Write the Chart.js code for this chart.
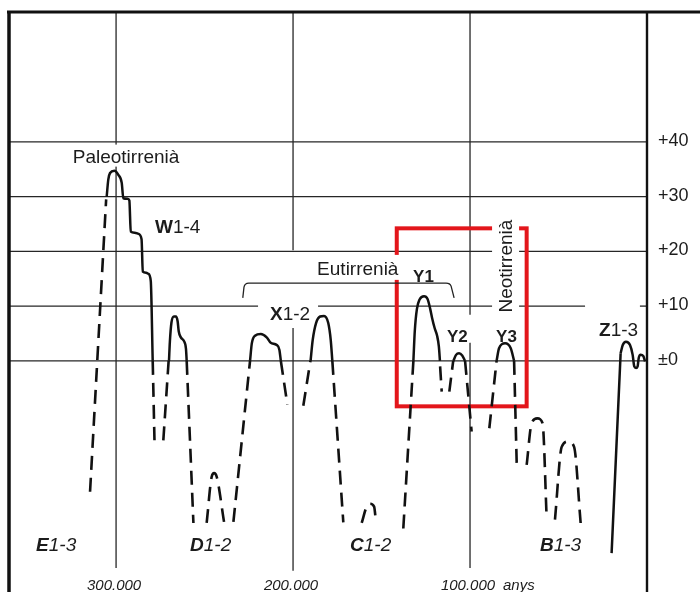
<!DOCTYPE html>
<html>
<head>
<meta charset="utf-8">
<script src="https://cdn.jsdelivr.net/npm/chart.js@4.4.1/dist/chart.umd.min.js"></script>
<style>
  html, body { margin: 0; padding: 0; background: #fff; }
  #wrap { width: 700px; height: 592px; }
</style>
</head>
<body>
<div id="wrap"><canvas id="c" width="700" height="592"></canvas></div>
<script>
// Nivell del mar (m) respecte a l'edat (milers d'anys, ka)
const yTicks = [0, 10, 20, 30, 40];
const yTickLabels = ['±0', '+10', '+20', '+30', '+40'];
const yearTicks = [300, 200, 100];
const yearLabels = ['300.000', '200.000', '100.000'];

// Trams continus (nivells documentats)
const solidW = [[305.3, 30.0], [304.4, 33.1], [303.4, 34.3], [301.0, 34.7], [298.8, 34.0], [296.8, 32.5], [295.9, 29.7], [293.5, 29.6], [292.5, 29.3], [291.7, 23.6], [289.5, 23.4], [287.4, 23.2], [285.6, 22.2], [284.9, 16.3], [283.0, 16.1], [281.8, 15.9], [280.4, 14.6], [279.3, 0]];
const solidD = [[270.1, 0], [269.6, 3.5], [268.7, 7.0], [267.3, 8.1], [266.2, 8.1], [265.2, 7.2], [264.6, 5.4], [263.4, 4.3], [261.6, 3.6], [260.5, 2.2], [260.1, 0]];
const solidX1 = [[224.3, 0], [223.3, 3.2], [221.5, 4.6], [218.2, 4.9], [214.9, 4.3], [212.6, 3.3], [209.2, 2.9], [207.7, 2.0], [206.9, 0]];
const solidX2 = [[190.1, 0], [188.9, 3.8], [187.0, 6.9], [184.7, 8.1], [182.5, 8.2], [180.1, 6.9], [178.7, 3.8], [177.8, 0]];
const solidY1 = [[132.0, 0], [131.2, 5.5], [130.0, 9.5], [128.5, 11.2], [126.0, 11.8], [124.0, 11.3], [122.5, 9.5], [121.4, 7.8], [120.0, 6.0], [118.6, 4.6], [117.6, 2.6], [117.0, 0]];
const solidY2 = [[109.4, 0], [107.9, 1.1], [106.2, 1.4], [104.4, 1.0], [102.8, 0]];
const solidY3 = [[85.0, 0], [83.6, 2.3], [80.2, 3.2], [77.0, 2.3], [75.1, 0]];
const solidZrise = [[20.0, -35.1], [14.9, 1.4]];
const solidZ = [[14.9, 1.4], [13.7, 2.9], [11.9, 3.5], [9.6, 2.9], [8.1, 1.1], [7.2, -1.0], [6.2, -1.3], [5.3, -1.0], [4.7, 0.5], [3.6, 1.1], [2.1, 0.9], [1.1, -0.1]];

// Trams discontinus (regressions)
const dashWleft = [[314.7, -23.9], [305.6, 29.5]];
const dashWright = [[279.3, 0], [278.3, -14.5]];
const dashDleft = [[273.3, -14.5], [270.3, 0]];
const dashDright = [[260.1, 0], [256.3, -29.6]];
const dashD12 = [[248.8, -29.6], [246.0, -21.2], [244.6, -20.5], [243.1, -21.2], [239.0, -29.4]];
const dashXleft = [[233.7, -29.4], [224.3, 0]];
const dashX1right = [[206.9, 0], [203.2, -8.0]];
const dashX2left = [[194.2, -8.2], [190.2, 0]];
const dashX2right = [[177.8, 0], [171.6, -29.5]];
const dashC12 = [[161.2, -29.6], [158.4, -26.6], [156.5, -26.1], [154.2, -26.6], [153.1, -29.6]];
const dashY1left = [[137.7, -30.6], [132.0, 0]];
const dashY1right = [[116.9, -1.0], [116.0, -5.6]];
const dashY2left = [[111.7, -5.6], [109.5, 0]];
const dashY2right = [[102.8, 0], [99.1, -12.9]];
const dashY3left = [[89.1, -12.3], [85.0, 0]];
const dashY3right = [[75.1, 0], [73.6, -19.0]];
const dashB1 = [[68.0, -19.0], [65.2, -11.4], [62.0, -10.5], [59.0, -11.4], [56.7, -28.7]];
const dashB2 = [[52.0, -29.0], [48.2, -15.7], [44.5, -14.7], [41.2, -15.7], [37.5, -29.6]];

const solids = [solidW, solidD, solidX1, solidX2, solidY1, solidY2, solidY3, solidZrise, solidZ];
const dashes = [dashWleft, dashWright, dashDleft, dashDright, dashD12, dashXleft, dashX1right, dashX2left,
  dashX2right, dashC12, dashY1left, dashY1right, dashY2left, dashY2right, dashY3left, dashY3right, dashB1, dashB2];

const FONT = '"Liberation Sans", Arial, sans-serif';
const INK = '#1c1c1c';

function makeDataset(pts, dashed) {
  return {
    data: pts.map(([x, y]) => ({ x, y })),
    borderColor: '#111',
    borderWidth: dashed ? 2.6 : 2.5,
    borderDash: dashed ? [14, 8] : [],
    pointRadius: 0,
    cubicInterpolationMode: 'monotone',
    fill: false
  };
}

function drawRuns(ctx, x, y, runs) {
  runs.forEach(([text, font]) => {
    ctx.font = font;
    ctx.fillText(text, x, y);
    x += ctx.measureText(text).width;
  });
}

const figure = {
  id: 'figure',
  beforeDraw(chart) {
    const { ctx, width, height } = chart;
    ctx.save();
    ctx.fillStyle = '#fff';
    ctx.fillRect(0, 0, width, height);
    ctx.restore();
  },
  beforeDatasetsDraw(chart) {
    const { ctx, chartArea: a, scales } = chart;
    const X = v => scales.x.getPixelForValue(v);
    const Y = v => scales.y.getPixelForValue(v);
    const seg = (x1, y1, x2, y2) => { ctx.beginPath(); ctx.moveTo(x1, y1); ctx.lineTo(x2, y2); ctx.stroke(); };

    ctx.save();
    // quadrícula
    ctx.strokeStyle = '#262626';
    ctx.lineWidth = 1.3;
    yTicks.forEach(v => {
      if (v === 10) {
        seg(a.left, Y(v), X(35), Y(v));
        seg(X(4), Y(v), a.right, Y(v));
      } else {
        seg(a.left, Y(v), a.right, Y(v));
      }
    });
    seg(X(yearTicks[0]), a.top, X(yearTicks[0]), Y(-37.8));
    seg(X(yearTicks[1]), a.top, X(yearTicks[1]), Y(20.2));
    seg(X(yearTicks[1]), Y(6), X(yearTicks[1]), Y(-38.3));
    seg(X(yearTicks[2]), a.top, X(yearTicks[2]), Y(8.4));
    seg(X(yearTicks[2]), Y(3.3), X(yearTicks[2]), Y(-37.8));

    // requadre vermell (Neotirrenià)
    ctx.strokeStyle = '#e3161b';
    ctx.lineWidth = 4;
    ctx.lineJoin = 'miter';
    ctx.strokeRect(X(141.4), Y(24.2), X(68) - X(141.4), Y(-8.3) - Y(24.2));

    // clau de l'Eutirrenià
    ctx.strokeStyle = '#222';
    ctx.lineWidth = 1.3;
    const bx1 = X(228.4), bx2 = X(109.0), by = Y(14.2), bf = Y(11.5);
    ctx.beginPath();
    ctx.moveTo(bx1, bf);
    ctx.lineTo(bx1 + 1.2, by + 4);
    ctx.quadraticCurveTo(bx1 + 2, by, bx1 + 6, by);
    ctx.lineTo(bx2 - 8, by);
    ctx.quadraticCurveTo(bx2 - 4, by, bx2 - 3, by + 3);
    ctx.lineTo(bx2, bf);
    ctx.stroke();

    // fons blanc sota alguns rètols
    ctx.fillStyle = '#fff';
    ctx.font = '19px ' + FONT;
    let w = ctx.measureText('Paleotirrenià').width;
    ctx.fillRect(X(324.5) - 3, Y(36.2) - 18, w + 6, 22);
    w = ctx.measureText('Eutirrenià').width;
    ctx.fillRect(X(186.4) - 3, Y(15.7) - 20, w + 7, 25);
    ctx.fillRect(X(213.0) - 12, Y(7.5) - 19, 60, 23);
    ctx.fillRect(X(80.2) - 13, Y(17.3) - 50, 27, 101);
    ctx.restore();
  },
  afterDatasetsDraw(chart) {
    const { ctx, chartArea: a, scales, width, height } = chart;
    const X = v => scales.x.getPixelForValue(v);
    const Y = v => scales.y.getPixelForValue(v);
    ctx.save();

    // marc i eix
    ctx.strokeStyle = '#111';
    ctx.lineWidth = 3;
    ctx.beginPath(); ctx.moveTo(a.left - 2, a.top); ctx.lineTo(width, a.top); ctx.stroke();
    ctx.lineWidth = 3.5;
    ctx.beginPath(); ctx.moveTo(a.left, a.top); ctx.lineTo(a.left, height); ctx.stroke();
    ctx.lineWidth = 2.4;
    ctx.beginPath(); ctx.moveTo(a.right, a.top); ctx.lineTo(a.right, height); ctx.stroke();

    ctx.fillStyle = INK;
    // rètols de l'eix dret
    ctx.font = '18px ' + FONT;
    ctx.textBaseline = 'middle';
    yTicks.forEach((v, i) => ctx.fillText(yTickLabels[i], a.right + 11, Y(v) - 1));

    ctx.textBaseline = 'alphabetic';
    const reg = '19px ' + FONT, bold = 'bold 19px ' + FONT;
    const it = 'italic 19px ' + FONT, boldIt = 'italic bold 19px ' + FONT;
    const yb = 'bold 17px ' + FONT;

    drawRuns(ctx, X(324.5), Y(36.2), [['Paleotirrenià', reg]]);
    drawRuns(ctx, X(278.0), Y(23.4), [['W', bold], ['1-4', reg]]);
    drawRuns(ctx, X(186.4), Y(15.7), [['Eutirrenià', reg]]);
    drawRuns(ctx, X(132.2), Y(14.4), [['Y1', yb]]);
    drawRuns(ctx, X(213.0), Y(7.5), [['X', bold], ['1-2', reg]]);
    drawRuns(ctx, X(113.0), Y(3.5), [['Y2', yb]]);
    drawRuns(ctx, X(85.3), Y(3.5), [['Y3', yb]]);
    drawRuns(ctx, X(27.1), Y(4.6), [['Z', bold], ['1-3', reg]]);

    drawRuns(ctx, X(345.2), Y(-34.7), [['E', boldIt], ['1-3', it]]);
    drawRuns(ctx, X(258.2), Y(-34.7), [['D', boldIt], ['1-2', it]]);
    drawRuns(ctx, X(167.8), Y(-34.7), [['C', boldIt], ['1-2', it]]);
    drawRuns(ctx, X(60.5), Y(-34.7), [['B', boldIt], ['1-3', it]]);

    // Neotirrenià en vertical
    ctx.save();
    ctx.translate(X(80.2) + 7, Y(17.3));
    ctx.rotate(-Math.PI / 2);
    ctx.textAlign = 'center';
    ctx.font = reg;
    ctx.fillText('Neotirrenià', 0, 0);
    ctx.restore();

    // rètols d'edat
    ctx.font = 'italic 15px ' + FONT;
    ctx.textAlign = 'center';
    yearTicks.forEach((v, i) => ctx.fillText(yearLabels[i], X(v) - 2, Y(-41.8)));
    ctx.textAlign = 'left';
    ctx.fillText('anys', X(81.4), Y(-41.8));
    ctx.restore();
  }
};

new Chart(document.getElementById('c'), {
  type: 'line',
  data: {
    datasets: [
      ...solids.map(s => makeDataset(s, false)),
      ...dashes.map(s => makeDataset(s, true))
    ]
  },
  options: {
    responsive: false,
    animation: false,
    devicePixelRatio: 1,
    layout: { padding: { left: 9, top: 12, right: 53, bottom: 0 } },
    plugins: { legend: { display: false }, tooltip: { enabled: false } },
    scales: {
      x: { type: 'linear', min: 0, max: 360.5, reverse: true, display: false },
      y: { type: 'linear', min: -42.2, max: 63.7, display: false }
    }
  },
  plugins: [figure]
});
</script>
</body>
</html>
